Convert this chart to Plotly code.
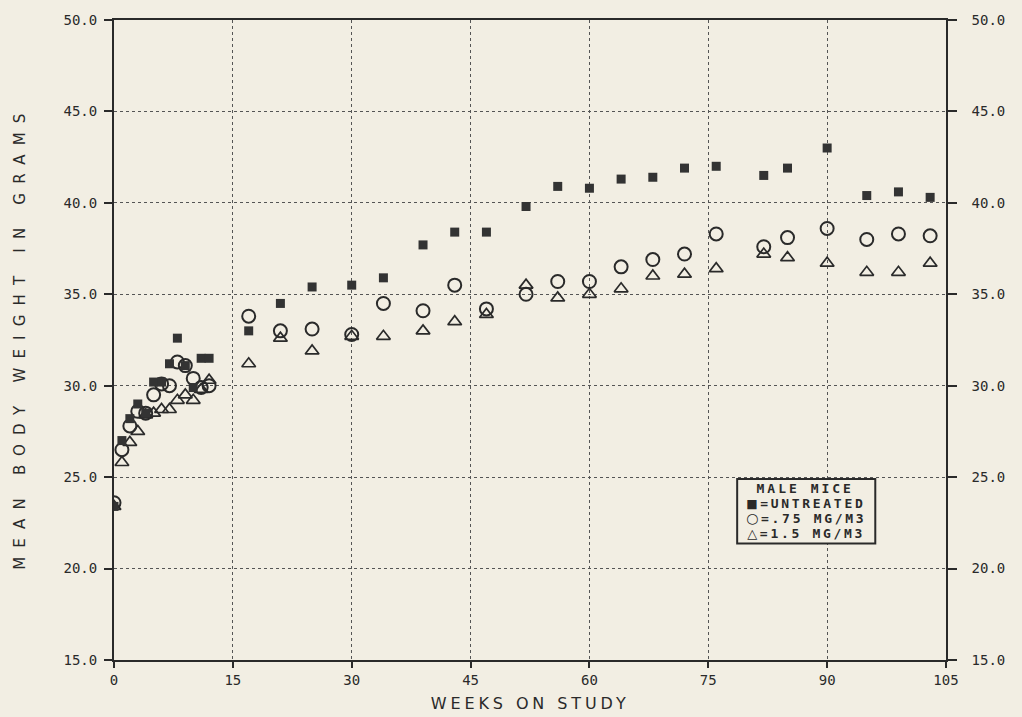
import plotly.graph_objects as go

# ---------------- data ----------------
weeks = [0, 1, 2, 3, 4, 5, 6, 7, 8, 9, 10, 11, 12,
         17, 21, 25, 30, 34, 39, 43, 47, 52, 56, 60, 64, 68, 72, 76, 82, 85, 90, 95, 99, 103]

untreated = [23.4, 27.0, 28.2, 29.0, 28.5, 30.2, 30.2, 31.2, 32.6, 31.1, 29.9, 31.5, 31.5,
             33.0, 34.5, 35.4, 35.5, 35.9, 37.7, 38.4, 38.4, 39.8, 40.9, 40.8, 41.3, 41.4,
             41.9, 42.0, 41.5, 41.9, 43.0, 40.4, 40.6, 40.3]

dose_075 = [23.6, 26.5, 27.8, 28.6, 28.5, 29.5, 30.1, 30.0, 31.3, 31.1, 30.4, 29.9, 30.0,
            33.8, 33.0, 33.1, 32.8, 34.5, 34.1, 35.5, 34.2, 35.0, 35.7, 35.7, 36.5, 36.9,
            37.2, 38.3, 37.6, 38.1, 38.6, 38.0, 38.3, 38.2]

dose_15 = [23.4, 25.8, 26.9, 27.5, 28.4, 28.5, 28.7, 28.7, 29.2, 29.5, 29.2, 29.8, 30.3,
           31.2, 32.6, 31.9, 32.7, 32.7, 33.0, 33.5, 33.9, 35.5, 34.8, 35.0, 35.3, 36.0,
           36.1, 36.4, 37.2, 37.0, 36.7, 36.2, 36.2, 36.7]

x_ticks = [0, 15, 30, 45, 60, 75, 90, 105]
y_ticks = [15, 20, 25, 30, 35, 40, 45, 50]

x_title = "WEEKS ON STUDY"
y_title = "MEAN BODY WEIGHT IN GRAMS"
legend_title = "MALE MICE"
legend_symbols = ["\u25A0", "\u25CB", "\u25B3"]
legend_labels = ["=UNTREATED", "=.75 MG/M3", "=1.5 MG/M3"]

# ---------------- styling ----------------
INK = "#2a2a2a"
BG = "#f2eee3"
GRID = "#555555"
MONO = "DejaVu Sans Mono"

fig = go.Figure()

fig.add_trace(go.Scatter(
    x=weeks, y=dose_15, mode="markers", name="1.5 MG/M3",
    marker=dict(symbol="triangle-up-open", size=12, color=INK,
                line=dict(width=1.7, color=INK))))
fig.add_trace(go.Scatter(
    x=weeks, y=dose_075, mode="markers", name=".75 MG/M3",
    marker=dict(symbol="circle-open", size=13, color=INK,
                line=dict(width=2, color=INK))))
fig.add_trace(go.Scatter(
    x=weeks, y=untreated, mode="markers", name="UNTREATED",
    marker=dict(symbol="square", size=9, color="#333333",
                line=dict(width=0))))

axis_font = dict(family=MONO, size=14, color=INK)

fig.update_layout(
    width=1022, height=717,
    paper_bgcolor=BG, plot_bgcolor=BG,
    showlegend=False,
    margin=dict(l=114, r=76, t=17, b=57),
    xaxis=dict(
        range=[0, 105], tickvals=x_ticks, ticktext=[str(v) for v in x_ticks],
        ticks="outside", ticklen=6, tickwidth=1.5, tickcolor=INK,
        showline=True, linecolor=INK, linewidth=2, mirror=True,
        showgrid=True, gridcolor=GRID, gridwidth=1, griddash="dot",
        zeroline=False, tickfont=axis_font,
    ),
    yaxis=dict(
        range=[15, 50], tickvals=y_ticks, ticktext=["%.1f" % v for v in y_ticks],
        ticks="outside", ticklen=8, tickwidth=1.5, tickcolor=INK,
        showline=True, linecolor=INK, linewidth=2,
        showgrid=True, gridcolor=GRID, gridwidth=1, griddash="dot",
        zeroline=False, tickfont=axis_font, ticklabelstandoff=4,
    ),
    yaxis2=dict(
        range=[15, 50], tickvals=y_ticks, ticktext=["%.1f" % v for v in y_ticks],
        overlaying="y", side="right", anchor="x",
        ticks="outside", ticklen=9, tickwidth=1.5, tickcolor=INK,
        showline=True, linecolor=INK, linewidth=1.5,
        showgrid=False, zeroline=False, tickfont=axis_font, ticklabelstandoff=12,
    ),
)

# invisible trace so that the right axis is drawn
fig.add_trace(go.Scatter(x=[0], y=[15], yaxis="y2", mode="markers",
                         marker=dict(opacity=0), hoverinfo="skip", showlegend=False))

# axis titles
fig.add_annotation(text=x_title, xref="paper", yref="paper", x=0.5, y=-0.068,
                   xanchor="center", yanchor="middle", showarrow=False,
                   font=dict(family="DejaVu Sans", size=16, color=INK))
fig.add_annotation(text=y_title, xref="paper", yref="paper", x=-0.113, y=0.505,
                   xanchor="center", yanchor="middle", textangle=-90, showarrow=False,
                   font=dict(family="DejaVu Sans", size=15, color=INK))

# legend box
fig.add_shape(type="rect", xref="paper", yref="paper",
              x0=0.749, x1=0.915, y0=0.182, y1=0.283,
              line=dict(color=INK, width=2), fillcolor=BG, layer="above")
leg_font = dict(family=MONO, size=13, color=INK)
fig.add_annotation(text="<b>" + legend_title + "</b>", xref="paper", yref="paper",
                   x=0.831, y=0.268, xanchor="center", yanchor="middle",
                   showarrow=False, font=leg_font)
sym_sizes = [12, 14, 13]
for i, (sym, lab) in enumerate(zip(legend_symbols, legend_labels)):
    txt = ('<span style="font-family:DejaVu Sans;font-size:%dpx">%s</span><b>%s</b>'
           % (sym_sizes[i], sym, lab))
    fig.add_annotation(text=txt, xref="paper", yref="paper",
                       x=0.832, y=0.245 - 0.0235 * i, xanchor="center", yanchor="middle",
                       showarrow=False, font=leg_font)

post_js = """
document.body.style.margin = '0';
document.body.style.background = '%s';
var gd = document.getElementById('{plot_id}');
function spaceText(){
  gd.querySelectorAll('text.annotation-text').forEach(function(t){
    var s = t.textContent;
    if (s.indexOf('MEAN') === 0) { t.style.letterSpacing = '9.2px'; }
    else if (s.indexOf('WEEKS') === 0) { t.style.letterSpacing = '3.9px'; }
    else if (s.indexOf('MALE') === 0) { t.style.letterSpacing = '3.0px'; }
    else { t.style.letterSpacing = '2.7px'; }
  });
}
spaceText();
setTimeout(spaceText, 50);
""" % BG

fig.write_html("out.html", post_script=post_js, config={"displayModeBar": False})
